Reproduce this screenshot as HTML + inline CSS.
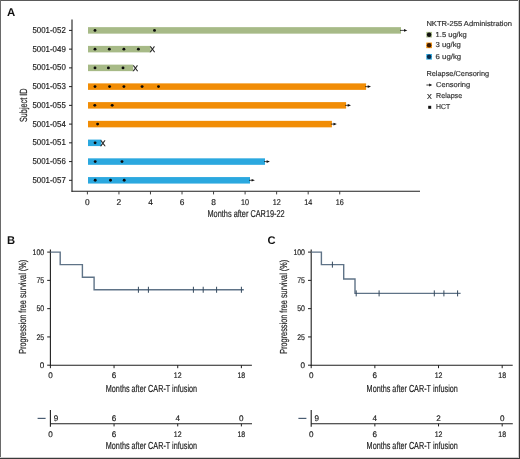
<!DOCTYPE html>
<html><head><meta charset="utf-8"><title>Figure</title>
<style>
html,body{margin:0;padding:0;background:#fff;}
body{width:520px;height:459px;overflow:hidden;}
svg{display:block;font-family:"Liberation Sans", sans-serif;text-rendering:geometricPrecision;will-change:transform;}
</style></head>
<body>
<svg width="520" height="459" viewBox="0 0 520 459" font-family='"Liberation Sans", sans-serif'>
<rect x="0" y="0" width="520" height="459" fill="#fff"/>
<text x="7.1" y="16.1" font-size="11.4" font-weight="bold" fill="#111">A</text>
<line x1="72" y1="19.4" x2="72" y2="191.8" stroke="#1f1f1f" stroke-width="1.1"/>
<line x1="71.5" y1="191.3" x2="420" y2="191.3" stroke="#1f1f1f" stroke-width="1.1"/>
<line x1="69" y1="30.4" x2="72" y2="30.4" stroke="#1f1f1f" stroke-width="1"/>
<text x="65.8" y="33.0" font-size="8.6" text-anchor="end" textLength="33.4" lengthAdjust="spacingAndGlyphs" fill="#222" stroke="#222" stroke-width="0.18">5001-052</text>
<line x1="69" y1="49.14" x2="72" y2="49.14" stroke="#1f1f1f" stroke-width="1"/>
<text x="65.8" y="51.74" font-size="8.6" text-anchor="end" textLength="33.4" lengthAdjust="spacingAndGlyphs" fill="#222" stroke="#222" stroke-width="0.18">5001-049</text>
<line x1="69" y1="67.88" x2="72" y2="67.88" stroke="#1f1f1f" stroke-width="1"/>
<text x="65.8" y="70.48" font-size="8.6" text-anchor="end" textLength="33.4" lengthAdjust="spacingAndGlyphs" fill="#222" stroke="#222" stroke-width="0.18">5001-050</text>
<line x1="69" y1="86.62" x2="72" y2="86.62" stroke="#1f1f1f" stroke-width="1"/>
<text x="65.8" y="89.22" font-size="8.6" text-anchor="end" textLength="33.4" lengthAdjust="spacingAndGlyphs" fill="#222" stroke="#222" stroke-width="0.18">5001-053</text>
<line x1="69" y1="105.35999999999999" x2="72" y2="105.35999999999999" stroke="#1f1f1f" stroke-width="1"/>
<text x="65.8" y="107.96" font-size="8.6" text-anchor="end" textLength="33.4" lengthAdjust="spacingAndGlyphs" fill="#222" stroke="#222" stroke-width="0.18">5001-055</text>
<line x1="69" y1="124.1" x2="72" y2="124.1" stroke="#1f1f1f" stroke-width="1"/>
<text x="65.8" y="126.7" font-size="8.6" text-anchor="end" textLength="33.4" lengthAdjust="spacingAndGlyphs" fill="#222" stroke="#222" stroke-width="0.18">5001-054</text>
<line x1="69" y1="142.84" x2="72" y2="142.84" stroke="#1f1f1f" stroke-width="1"/>
<text x="65.8" y="145.44" font-size="8.6" text-anchor="end" textLength="33.4" lengthAdjust="spacingAndGlyphs" fill="#222" stroke="#222" stroke-width="0.18">5001-051</text>
<line x1="69" y1="161.57999999999998" x2="72" y2="161.57999999999998" stroke="#1f1f1f" stroke-width="1"/>
<text x="65.8" y="164.18" font-size="8.6" text-anchor="end" textLength="33.4" lengthAdjust="spacingAndGlyphs" fill="#222" stroke="#222" stroke-width="0.18">5001-056</text>
<line x1="69" y1="180.32" x2="72" y2="180.32" stroke="#1f1f1f" stroke-width="1"/>
<text x="65.8" y="182.92" font-size="8.6" text-anchor="end" textLength="33.4" lengthAdjust="spacingAndGlyphs" fill="#222" stroke="#222" stroke-width="0.18">5001-057</text>
<line x1="87.4" y1="191.5" x2="87.4" y2="194.4" stroke="#1f1f1f" stroke-width="0.85"/>
<text x="87.4" y="204.6" font-size="8.4" text-anchor="middle" fill="#222" stroke="#222" stroke-width="0.18">0</text>
<line x1="118.94" y1="191.5" x2="118.94" y2="194.4" stroke="#1f1f1f" stroke-width="0.85"/>
<text x="118.94" y="204.6" font-size="8.4" text-anchor="middle" fill="#222" stroke="#222" stroke-width="0.18">2</text>
<line x1="150.48000000000002" y1="191.5" x2="150.48000000000002" y2="194.4" stroke="#1f1f1f" stroke-width="0.85"/>
<text x="150.48" y="204.6" font-size="8.4" text-anchor="middle" fill="#222" stroke="#222" stroke-width="0.18">4</text>
<line x1="182.02" y1="191.5" x2="182.02" y2="194.4" stroke="#1f1f1f" stroke-width="0.85"/>
<text x="182.02" y="204.6" font-size="8.4" text-anchor="middle" fill="#222" stroke="#222" stroke-width="0.18">6</text>
<line x1="213.56" y1="191.5" x2="213.56" y2="194.4" stroke="#1f1f1f" stroke-width="0.85"/>
<text x="213.56" y="204.6" font-size="8.4" text-anchor="middle" fill="#222" stroke="#222" stroke-width="0.18">8</text>
<line x1="245.1" y1="191.5" x2="245.1" y2="194.4" stroke="#1f1f1f" stroke-width="0.85"/>
<text x="245.1" y="204.6" font-size="8.4" text-anchor="middle" textLength="8.03" lengthAdjust="spacingAndGlyphs" fill="#222" stroke="#222" stroke-width="0.18">10</text>
<line x1="276.64" y1="191.5" x2="276.64" y2="194.4" stroke="#1f1f1f" stroke-width="0.85"/>
<text x="276.64" y="204.6" font-size="8.4" text-anchor="middle" textLength="8.03" lengthAdjust="spacingAndGlyphs" fill="#222" stroke="#222" stroke-width="0.18">12</text>
<line x1="308.18" y1="191.5" x2="308.18" y2="194.4" stroke="#1f1f1f" stroke-width="0.85"/>
<text x="308.18" y="204.6" font-size="8.4" text-anchor="middle" textLength="8.03" lengthAdjust="spacingAndGlyphs" fill="#222" stroke="#222" stroke-width="0.18">14</text>
<line x1="339.72" y1="191.5" x2="339.72" y2="194.4" stroke="#1f1f1f" stroke-width="0.85"/>
<text x="339.72" y="204.6" font-size="8.4" text-anchor="middle" textLength="8.03" lengthAdjust="spacingAndGlyphs" fill="#222" stroke="#222" stroke-width="0.18">16</text>
<text x="246.1" y="217.4" font-size="10.0" text-anchor="middle" textLength="77.2" lengthAdjust="spacingAndGlyphs" fill="#222" stroke="#222" stroke-width="0.18">Months after CAR19-22</text>
<text x="0" y="0" font-size="10.4" text-anchor="middle" textLength="33.4" lengthAdjust="spacingAndGlyphs" fill="#222" stroke="#222" stroke-width="0.18" transform="translate(26.9 105.3) rotate(-90)">Subject ID</text>
<rect x="88" y="27.15" width="313.0" height="6.5" fill="#a7ba87"/>
<circle cx="95.0" cy="30.4" r="1.45" fill="#0a0a0a"/>
<circle cx="154.5" cy="30.4" r="1.45" fill="#0a0a0a"/>
<line x1="400.0" y1="30.4" x2="404.8" y2="30.4" stroke="#111" stroke-width="0.75"/>
<path d="M404.0 29.1 L407.3 30.4 L404.0 31.7 Z" fill="#111"/>
<rect x="88" y="45.89" width="62.6" height="6.5" fill="#a7ba87"/>
<circle cx="95.0" cy="49.14" r="1.45" fill="#0a0a0a"/>
<circle cx="109.3" cy="49.14" r="1.45" fill="#0a0a0a"/>
<circle cx="123.9" cy="49.14" r="1.45" fill="#0a0a0a"/>
<circle cx="138.4" cy="49.14" r="1.45" fill="#0a0a0a"/>
<text x="152.4" y="51.99" font-size="7.9" text-anchor="middle" fill="#1a1a1a" stroke="#1a1a1a" stroke-width="0.32">X</text>
<rect x="88" y="64.63" width="45.2" height="6.5" fill="#a7ba87"/>
<circle cx="95.0" cy="67.88" r="1.45" fill="#0a0a0a"/>
<circle cx="108.4" cy="67.88" r="1.45" fill="#0a0a0a"/>
<circle cx="123.0" cy="67.88" r="1.45" fill="#0a0a0a"/>
<text x="135.4" y="70.73" font-size="7.9" text-anchor="middle" fill="#1a1a1a" stroke="#1a1a1a" stroke-width="0.32">X</text>
<rect x="88" y="83.37" width="278.1" height="6.5" fill="#f18d06"/>
<circle cx="95.0" cy="86.62" r="1.45" fill="#0a0a0a"/>
<circle cx="109.6" cy="86.62" r="1.45" fill="#0a0a0a"/>
<circle cx="123.9" cy="86.62" r="1.45" fill="#0a0a0a"/>
<circle cx="142.1" cy="86.62" r="1.45" fill="#0a0a0a"/>
<circle cx="158.5" cy="86.62" r="1.45" fill="#0a0a0a"/>
<line x1="365.1" y1="86.62" x2="368.5" y2="86.62" stroke="#111" stroke-width="0.75"/>
<path d="M367.7 85.32 L371.0 86.62 L367.7 87.92 Z" fill="#111"/>
<rect x="88" y="102.11" width="258.1" height="6.5" fill="#f18d06"/>
<circle cx="94.8" cy="105.36" r="1.45" fill="#0a0a0a"/>
<circle cx="112.2" cy="105.36" r="1.45" fill="#0a0a0a"/>
<line x1="345.1" y1="105.36" x2="348.5" y2="105.36" stroke="#111" stroke-width="0.75"/>
<path d="M347.7 104.06 L351.0 105.36 L347.7 106.66 Z" fill="#111"/>
<rect x="88" y="120.85" width="243.9" height="6.5" fill="#f18d06"/>
<circle cx="97.6" cy="124.1" r="1.45" fill="#0a0a0a"/>
<line x1="330.9" y1="124.1" x2="334.3" y2="124.1" stroke="#111" stroke-width="0.75"/>
<path d="M333.5 122.8 L336.8 124.1 L333.5 125.4 Z" fill="#111"/>
<rect x="88" y="139.59" width="13.4" height="6.5" fill="#2ba8df"/>
<circle cx="95.1" cy="142.84" r="1.45" fill="#0a0a0a"/>
<text x="102.8" y="145.69" font-size="7.9" text-anchor="middle" fill="#1a1a1a" stroke="#1a1a1a" stroke-width="0.32">X</text>
<rect x="88" y="158.33" width="177.0" height="6.5" fill="#2ba8df"/>
<circle cx="95.2" cy="161.58" r="1.45" fill="#0a0a0a"/>
<circle cx="122.0" cy="161.58" r="1.45" fill="#0a0a0a"/>
<line x1="264.0" y1="161.58" x2="267.4" y2="161.58" stroke="#111" stroke-width="0.75"/>
<path d="M266.6 160.28 L269.9 161.58 L266.6 162.88 Z" fill="#111"/>
<rect x="88" y="177.07" width="162.0" height="6.5" fill="#2ba8df"/>
<circle cx="95.2" cy="180.32" r="1.45" fill="#0a0a0a"/>
<circle cx="110.5" cy="180.32" r="1.45" fill="#0a0a0a"/>
<circle cx="124.2" cy="180.32" r="1.45" fill="#0a0a0a"/>
<line x1="249.0" y1="180.32" x2="252.4" y2="180.32" stroke="#111" stroke-width="0.75"/>
<path d="M251.6 179.02 L254.9 180.32 L251.6 181.62 Z" fill="#111"/>
<text x="426.4" y="25.8" font-size="7.2" textLength="85.5" lengthAdjust="spacingAndGlyphs" fill="#333" stroke="#333" stroke-width="0.18">NKTR-255 Administration</text>
<rect x="426.3" y="31.9" width="5.6" height="5.6" fill="#a7ba87"/>
<circle cx="429.1" cy="34.7" r="2.25" fill="#111"/>
<text x="435.6" y="36.8" font-size="7.2" textLength="31.1" lengthAdjust="spacingAndGlyphs" fill="#333" stroke="#333" stroke-width="0.18">1.5 ug/kg</text>
<rect x="426.3" y="42.55" width="5.6" height="5.6" fill="#f18d06"/>
<circle cx="429.1" cy="45.35" r="2.25" fill="#3a1a05"/>
<text x="435.6" y="47.45" font-size="7.2" textLength="25.3" lengthAdjust="spacingAndGlyphs" fill="#333" stroke="#333" stroke-width="0.18">3 ug/kg</text>
<rect x="426.3" y="54.0" width="5.6" height="5.6" fill="#2ba8df"/>
<circle cx="429.1" cy="56.8" r="2.25" fill="#0b2a4a"/>
<text x="435.6" y="58.9" font-size="7.2" textLength="25.5" lengthAdjust="spacingAndGlyphs" fill="#333" stroke="#333" stroke-width="0.18">6 ug/kg</text>
<text x="426.4" y="76.1" font-size="7.2" textLength="62.7" lengthAdjust="spacingAndGlyphs" fill="#333" stroke="#333" stroke-width="0.18">Relapse/Censoring</text>
<line x1="426.4" y1="85" x2="430" y2="85" stroke="#111" stroke-width="0.8"/>
<path d="M429.2 83.5 L432.2 85 L429.2 86.5 Z" fill="#111"/>
<text x="436.1" y="87.2" font-size="7.2" textLength="34.1" lengthAdjust="spacingAndGlyphs" fill="#333" stroke="#333" stroke-width="0.18">Censoring</text>
<text x="429.45" y="98.5" font-size="7.2" text-anchor="middle" fill="#222" stroke="#222" stroke-width="0.15">X</text>
<text x="436.1" y="98.3" font-size="7.2" textLength="26" lengthAdjust="spacingAndGlyphs" fill="#333" stroke="#333" stroke-width="0.18">Relapse</text>
<rect x="428.2" y="105.8" width="3" height="3" fill="#111"/>
<text x="436.1" y="109.4" font-size="7.2" textLength="14.1" lengthAdjust="spacingAndGlyphs" fill="#333" stroke="#333" stroke-width="0.18">HCT</text>
<text x="7.0" y="244.3" font-size="11.2" font-weight="bold" fill="#111">B</text>
<line x1="50.4" y1="249.4" x2="50.4" y2="365.7" stroke="#1f1f1f" stroke-width="1.1"/>
<line x1="49.9" y1="365.2" x2="251.9" y2="365.2" stroke="#1f1f1f" stroke-width="1.1"/>
<line x1="47.199999999999996" y1="365.2" x2="50.4" y2="365.2" stroke="#1f1f1f" stroke-width="1"/>
<text x="44.2" y="368.0" font-size="8.1" text-anchor="end" fill="#222" stroke="#222" stroke-width="0.18">0</text>
<line x1="47.199999999999996" y1="336.925" x2="50.4" y2="336.925" stroke="#1f1f1f" stroke-width="1"/>
<text x="44.2" y="339.73" font-size="8.1" text-anchor="end" textLength="7.75" lengthAdjust="spacingAndGlyphs" fill="#222" stroke="#222" stroke-width="0.18">25</text>
<line x1="47.199999999999996" y1="308.65" x2="50.4" y2="308.65" stroke="#1f1f1f" stroke-width="1"/>
<text x="44.2" y="311.45" font-size="8.1" text-anchor="end" textLength="7.75" lengthAdjust="spacingAndGlyphs" fill="#222" stroke="#222" stroke-width="0.18">50</text>
<line x1="47.199999999999996" y1="280.375" x2="50.4" y2="280.375" stroke="#1f1f1f" stroke-width="1"/>
<text x="44.2" y="283.18" font-size="8.1" text-anchor="end" textLength="7.75" lengthAdjust="spacingAndGlyphs" fill="#222" stroke="#222" stroke-width="0.18">75</text>
<line x1="47.199999999999996" y1="252.1" x2="50.4" y2="252.1" stroke="#1f1f1f" stroke-width="1"/>
<text x="44.2" y="254.9" font-size="8.1" text-anchor="end" textLength="11.62" lengthAdjust="spacingAndGlyphs" fill="#222" stroke="#222" stroke-width="0.18">100</text>
<line x1="50.4" y1="365.2" x2="50.4" y2="368.2" stroke="#1f1f1f" stroke-width="1"/>
<text x="50.4" y="378.3" font-size="8.1" text-anchor="middle" fill="#222" stroke="#222" stroke-width="0.18">0</text>
<line x1="114.06" y1="365.2" x2="114.06" y2="368.2" stroke="#1f1f1f" stroke-width="1"/>
<text x="114.06" y="378.3" font-size="8.1" text-anchor="middle" fill="#222" stroke="#222" stroke-width="0.18">6</text>
<line x1="177.72" y1="365.2" x2="177.72" y2="368.2" stroke="#1f1f1f" stroke-width="1"/>
<text x="177.72" y="378.3" font-size="8.1" text-anchor="middle" textLength="7.75" lengthAdjust="spacingAndGlyphs" fill="#222" stroke="#222" stroke-width="0.18">12</text>
<line x1="241.38" y1="365.2" x2="241.38" y2="368.2" stroke="#1f1f1f" stroke-width="1"/>
<text x="241.38" y="378.3" font-size="8.1" text-anchor="middle" textLength="7.75" lengthAdjust="spacingAndGlyphs" fill="#222" stroke="#222" stroke-width="0.18">18</text>
<text x="151.45" y="391.7" font-size="10.2" text-anchor="middle" textLength="91.3" lengthAdjust="spacingAndGlyphs" fill="#222" stroke="#222" stroke-width="0.18">Months after CAR-T infusion</text>
<text x="0" y="0" font-size="10.2" text-anchor="middle" textLength="94" lengthAdjust="spacingAndGlyphs" fill="#222" stroke="#222" stroke-width="0.18" transform="translate(26.2 306.8) rotate(-90)">Progression free survival (%)</text>
<path d="M50.4 252.1 H60.2 V264.65 H82.4 V277.21 H94.1 V289.76 H243.8" stroke="#5f7387" stroke-width="1.4" fill="none"/>
<line x1="138.4" y1="286.76" x2="138.4" y2="292.76" stroke="#34495d" stroke-width="1.0"/>
<line x1="148.4" y1="286.76" x2="148.4" y2="292.76" stroke="#34495d" stroke-width="1.0"/>
<line x1="193.4" y1="286.76" x2="193.4" y2="292.76" stroke="#34495d" stroke-width="1.0"/>
<line x1="203.2" y1="286.76" x2="203.2" y2="292.76" stroke="#34495d" stroke-width="1.0"/>
<line x1="216.6" y1="286.76" x2="216.6" y2="292.76" stroke="#34495d" stroke-width="1.0"/>
<line x1="241.4" y1="286.76" x2="241.4" y2="292.76" stroke="#34495d" stroke-width="1.0"/>
<line x1="50.4" y1="410" x2="50.4" y2="426.7" stroke="#1f1f1f" stroke-width="1.1"/>
<line x1="50.4" y1="423.8" x2="252" y2="423.8" stroke="#1f1f1f" stroke-width="1.1"/>
<line x1="114.06" y1="423.8" x2="114.06" y2="426.40000000000003" stroke="#1f1f1f" stroke-width="1"/>
<line x1="177.72" y1="423.8" x2="177.72" y2="426.40000000000003" stroke="#1f1f1f" stroke-width="1"/>
<line x1="241.38" y1="423.8" x2="241.38" y2="426.40000000000003" stroke="#1f1f1f" stroke-width="1"/>
<line x1="37.6" y1="418.4" x2="45.6" y2="418.4" stroke="#4a5d72" stroke-width="1.2"/>
<text x="53.8" y="420.6" font-size="8.1" fill="#222" stroke="#222" stroke-width="0.18">9</text>
<text x="114.06" y="420.6" font-size="8.1" text-anchor="middle" fill="#222" stroke="#222" stroke-width="0.18">6</text>
<text x="177.72" y="420.6" font-size="8.1" text-anchor="middle" fill="#222" stroke="#222" stroke-width="0.18">4</text>
<text x="241.38" y="420.6" font-size="8.1" text-anchor="middle" fill="#222" stroke="#222" stroke-width="0.18">0</text>
<text x="50.4" y="436.7" font-size="8.1" text-anchor="middle" fill="#222" stroke="#222" stroke-width="0.18">0</text>
<text x="114.06" y="436.7" font-size="8.1" text-anchor="middle" fill="#222" stroke="#222" stroke-width="0.18">6</text>
<text x="177.72" y="436.7" font-size="8.1" text-anchor="middle" textLength="7.75" lengthAdjust="spacingAndGlyphs" fill="#222" stroke="#222" stroke-width="0.18">12</text>
<text x="241.38" y="436.7" font-size="8.1" text-anchor="middle" textLength="7.75" lengthAdjust="spacingAndGlyphs" fill="#222" stroke="#222" stroke-width="0.18">18</text>
<text x="151.45" y="449.4" font-size="10.2" text-anchor="middle" textLength="91.3" lengthAdjust="spacingAndGlyphs" fill="#222" stroke="#222" stroke-width="0.18">Months after CAR-T infusion</text>
<text x="267.40000000000003" y="244.3" font-size="11.2" font-weight="bold" fill="#111">C</text>
<line x1="311.2" y1="249.4" x2="311.2" y2="365.7" stroke="#1f1f1f" stroke-width="1.1"/>
<line x1="310.7" y1="365.2" x2="512.7" y2="365.2" stroke="#1f1f1f" stroke-width="1.1"/>
<line x1="308.0" y1="365.2" x2="311.2" y2="365.2" stroke="#1f1f1f" stroke-width="1"/>
<text x="305.0" y="368.0" font-size="8.1" text-anchor="end" fill="#222" stroke="#222" stroke-width="0.18">0</text>
<line x1="308.0" y1="336.925" x2="311.2" y2="336.925" stroke="#1f1f1f" stroke-width="1"/>
<text x="305.0" y="339.73" font-size="8.1" text-anchor="end" textLength="7.75" lengthAdjust="spacingAndGlyphs" fill="#222" stroke="#222" stroke-width="0.18">25</text>
<line x1="308.0" y1="308.65" x2="311.2" y2="308.65" stroke="#1f1f1f" stroke-width="1"/>
<text x="305.0" y="311.45" font-size="8.1" text-anchor="end" textLength="7.75" lengthAdjust="spacingAndGlyphs" fill="#222" stroke="#222" stroke-width="0.18">50</text>
<line x1="308.0" y1="280.375" x2="311.2" y2="280.375" stroke="#1f1f1f" stroke-width="1"/>
<text x="305.0" y="283.18" font-size="8.1" text-anchor="end" textLength="7.75" lengthAdjust="spacingAndGlyphs" fill="#222" stroke="#222" stroke-width="0.18">75</text>
<line x1="308.0" y1="252.1" x2="311.2" y2="252.1" stroke="#1f1f1f" stroke-width="1"/>
<text x="305.0" y="254.9" font-size="8.1" text-anchor="end" textLength="11.62" lengthAdjust="spacingAndGlyphs" fill="#222" stroke="#222" stroke-width="0.18">100</text>
<line x1="311.2" y1="365.2" x2="311.2" y2="368.2" stroke="#1f1f1f" stroke-width="1"/>
<text x="311.2" y="378.3" font-size="8.1" text-anchor="middle" fill="#222" stroke="#222" stroke-width="0.18">0</text>
<line x1="374.86" y1="365.2" x2="374.86" y2="368.2" stroke="#1f1f1f" stroke-width="1"/>
<text x="374.86" y="378.3" font-size="8.1" text-anchor="middle" fill="#222" stroke="#222" stroke-width="0.18">6</text>
<line x1="438.52" y1="365.2" x2="438.52" y2="368.2" stroke="#1f1f1f" stroke-width="1"/>
<text x="438.52" y="378.3" font-size="8.1" text-anchor="middle" textLength="7.75" lengthAdjust="spacingAndGlyphs" fill="#222" stroke="#222" stroke-width="0.18">12</text>
<line x1="502.17999999999995" y1="365.2" x2="502.17999999999995" y2="368.2" stroke="#1f1f1f" stroke-width="1"/>
<text x="502.18" y="378.3" font-size="8.1" text-anchor="middle" textLength="7.75" lengthAdjust="spacingAndGlyphs" fill="#222" stroke="#222" stroke-width="0.18">18</text>
<text x="412.25" y="391.7" font-size="10.2" text-anchor="middle" textLength="91.3" lengthAdjust="spacingAndGlyphs" fill="#222" stroke="#222" stroke-width="0.18">Months after CAR-T infusion</text>
<text x="0" y="0" font-size="10.2" text-anchor="middle" textLength="94" lengthAdjust="spacingAndGlyphs" fill="#222" stroke="#222" stroke-width="0.18" transform="translate(287.0 306.8) rotate(-90)">Progression free survival (%)</text>
<path d="M311.2 252.1 H321.4 V264.65 H343.7 V279.02 H355.0 V293.38 H460.6" stroke="#5f7387" stroke-width="1.4" fill="none"/>
<line x1="332.4" y1="261.65" x2="332.4" y2="267.65" stroke="#34495d" stroke-width="1.0"/>
<line x1="356.2" y1="290.38" x2="356.2" y2="296.38" stroke="#34495d" stroke-width="1.0"/>
<line x1="379.1" y1="290.38" x2="379.1" y2="296.38" stroke="#34495d" stroke-width="1.0"/>
<line x1="434.3" y1="290.38" x2="434.3" y2="296.38" stroke="#34495d" stroke-width="1.0"/>
<line x1="443.9" y1="290.38" x2="443.9" y2="296.38" stroke="#34495d" stroke-width="1.0"/>
<line x1="457.6" y1="290.38" x2="457.6" y2="296.38" stroke="#34495d" stroke-width="1.0"/>
<line x1="311.2" y1="410" x2="311.2" y2="426.7" stroke="#1f1f1f" stroke-width="1.1"/>
<line x1="311.2" y1="423.8" x2="512.8" y2="423.8" stroke="#1f1f1f" stroke-width="1.1"/>
<line x1="374.86" y1="423.8" x2="374.86" y2="426.40000000000003" stroke="#1f1f1f" stroke-width="1"/>
<line x1="438.52" y1="423.8" x2="438.52" y2="426.40000000000003" stroke="#1f1f1f" stroke-width="1"/>
<line x1="502.17999999999995" y1="423.8" x2="502.17999999999995" y2="426.40000000000003" stroke="#1f1f1f" stroke-width="1"/>
<line x1="298.40000000000003" y1="418.4" x2="306.40000000000003" y2="418.4" stroke="#4a5d72" stroke-width="1.2"/>
<text x="314.6" y="420.6" font-size="8.1" fill="#222" stroke="#222" stroke-width="0.18">9</text>
<text x="374.86" y="420.6" font-size="8.1" text-anchor="middle" fill="#222" stroke="#222" stroke-width="0.18">4</text>
<text x="438.52" y="420.6" font-size="8.1" text-anchor="middle" fill="#222" stroke="#222" stroke-width="0.18">2</text>
<text x="502.18" y="420.6" font-size="8.1" text-anchor="middle" fill="#222" stroke="#222" stroke-width="0.18">0</text>
<text x="311.2" y="436.7" font-size="8.1" text-anchor="middle" fill="#222" stroke="#222" stroke-width="0.18">0</text>
<text x="374.86" y="436.7" font-size="8.1" text-anchor="middle" fill="#222" stroke="#222" stroke-width="0.18">6</text>
<text x="438.52" y="436.7" font-size="8.1" text-anchor="middle" textLength="7.75" lengthAdjust="spacingAndGlyphs" fill="#222" stroke="#222" stroke-width="0.18">12</text>
<text x="502.18" y="436.7" font-size="8.1" text-anchor="middle" textLength="7.75" lengthAdjust="spacingAndGlyphs" fill="#222" stroke="#222" stroke-width="0.18">18</text>
<text x="412.25" y="449.4" font-size="10.2" text-anchor="middle" textLength="91.3" lengthAdjust="spacingAndGlyphs" fill="#222" stroke="#222" stroke-width="0.18">Months after CAR-T infusion</text>
<rect x="0" y="0" width="520" height="1" fill="#5a5a5a"/>
<rect x="0" y="0" width="1" height="459" fill="#6a6a6a"/>
<rect x="518" y="0" width="1" height="459" fill="#cfcfcf"/>
<rect x="0" y="457" width="520" height="1" fill="#cfcfcf"/>
<rect x="519" y="0" width="1" height="459" fill="#3a3a3a"/>
<rect x="0" y="458" width="520" height="1" fill="#3a3a3a"/>
</svg>
</body></html>
